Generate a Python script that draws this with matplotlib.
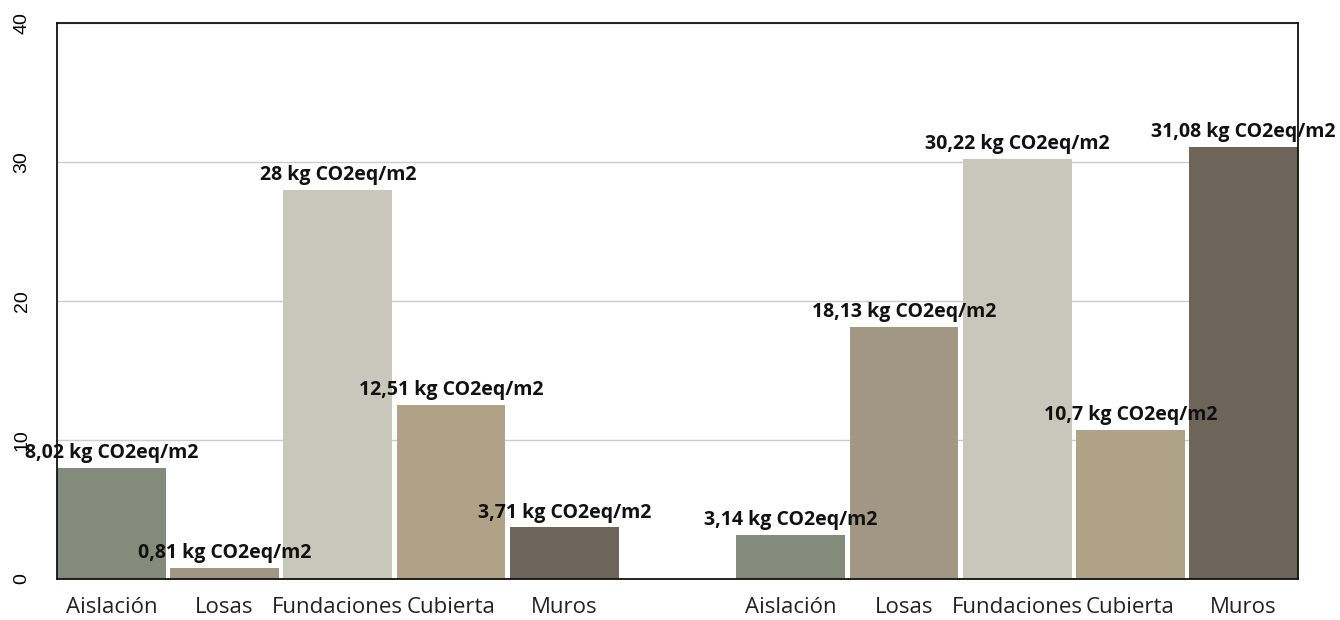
import matplotlib
matplotlib.use("Agg")
import matplotlib.pyplot as plt
import numpy as np

categories = ["Aislación", "Losas", "Fundaciones", "Cubierta", "Muros"]
group_a = [8.02, 0.81, 28.0, 12.51, 3.71]
group_b = [3.14, 18.13, 30.22, 10.7, 31.08]
colors = ["#848B7A", "#A29783", "#C7C8BB", "#B0A286", "#6E655A"]
unit = "kg CO2eq/m2"


def fmt(v):
    s = f"{v:.2f}".rstrip("0").rstrip(".")
    return s.replace(".", ",")


fig = plt.figure(figsize=(13.4, 6.2), dpi=100)
ax = fig.add_axes([57 / 1340, 1 - 579 / 620, 1241 / 1340, 556 / 620])

positions = list(range(5)) + list(range(6, 11))
values = group_a + group_b
labels = categories + categories
bar_colors = colors + colors

bars = ax.bar(positions, values, width=0.96, color=bar_colors, zorder=2)
for b, v in zip(bars, values):
    ax.annotate(f"{fmt(v)} {unit}", (b.get_x() + b.get_width() / 2, v),
                xytext=(0, 3.5), textcoords="offset points",
                ha="center", va="bottom", fontsize=14, fontweight="bold",
                family=["Open Sans", "DejaVu Sans"], color="#111111", zorder=3)

ax.set_xlim(-0.48, 10.48)
ax.set_ylim(0, 40)
ax.set_yticks([0, 10, 20, 30, 40])
ax.set_xticks(positions)
ax.set_xticklabels(labels, fontsize=16, family=["Open Sans", "DejaVu Sans"], color="#222222")
for t in ax.get_yticklabels():
    t.set_rotation(90)
    t.set_va("center")
    t.set_fontsize(14)
    t.set_family("Liberation Sans")
ax.tick_params(axis="both", length=0)
ax.tick_params(axis="y", pad=19)
ax.tick_params(axis="x", pad=13)
ax.yaxis.grid(True, color="#cccccc", linewidth=1, zorder=0)
ax.set_axisbelow(True)
for s in ax.spines.values():
    s.set_color("#111111")
    s.set_linewidth(1.3)
    s.set_zorder(5)

fig.savefig("out.png", dpi=100)
